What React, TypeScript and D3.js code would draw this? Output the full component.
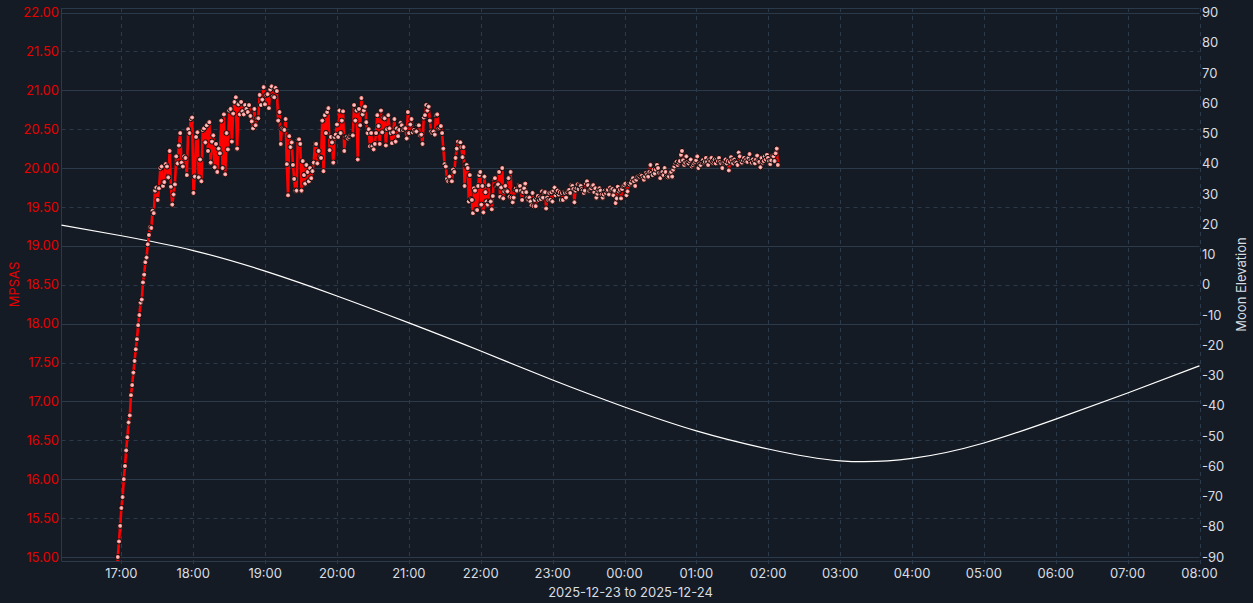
import React, { useEffect, useRef } from 'react';
import * as d3 from 'd3';

// axis ticks
const hourLabels = ['17:00', '18:00', '19:00', '20:00', '21:00', '22:00', '23:00', '00:00', '01:00', '02:00', '03:00', '04:00', '05:00', '06:00', '07:00', '08:00'];
const mpsasTicks = [15, 15.5, 16, 16.5, 17, 17.5, 18, 18.5, 19, 19.5, 20, 20.5, 21, 21.5, 22];
const moonTicks = [-90, -80, -70, -60, -50, -40, -30, -20, -10, 0, 10, 20, 30, 40, 50, 60, 70, 80, 90];

// moon elevation (degrees)
const moonTimes = ['16:10', '17:00', '18:00', '19:00', '20:00', '21:00', '22:00', '23:00', '00:00', '01:00', '02:00', '03:00', '04:00', '05:00', '06:00', '07:00', '08:00'];
const moonElevation = [19.7, 16.2, 11.3, 4.5, -3.7, -12.6, -21.9, -31.5, -40.4, -48.3, -54.3, -58.2, -57.4, -52.3, -44.4, -35.8, -26.8];

// SQM readings, split in stretches; points of a stretch are spread evenly between its start and end
const segmentStarts = ['16:56', '17:27', '19:13', '21:43', '23:48'];
const segmentEnds = ['17:26', '19:12', '21:41', '23:47', '02:08'];

const riseValues = [14.75, 15.0, 15.2, 15.4, 15.63, 15.77, 16.0, 16.17, 16.37, 16.54, 16.73, 16.82, 17.08, 17.21, 17.37, 17.52, 17.67, 17.8, 17.98, 18.11, 18.27, 18.31, 18.53, 18.63, 18.79, 18.85, 19.02, 19.14, 19.24, 19.23, 19.45];

const eveningValues = [19.42, 19.71, 19.75, 19.59, 19.74, 20.0, 20.02, 19.77, 19.82, 20.05, 20.02, 19.88, 20.22, 19.76, 19.53, 19.66, 19.79, 20.15, 20.06, 20.29, 20.45, 20.07, 20.02, 20.15, 20.13, 19.91, 20.5, 20.45, 20.63, 20.65, 19.68, 19.89, 20.4, 20.46, 19.88, 20.11, 19.83, 20.49, 20.51, 20.33, 20.55, 20.22, 20.59, 20.07, 20.34, 20.42, 20.01, 20.31, 19.95, 20.25, 20.19, 20.61, 20.0, 20.69, 19.92, 20.45, 20.24, 20.74, 20.76, 20.34, 20.7, 20.85, 20.91, 20.25, 20.82, 20.69, 20.85, 20.73, 20.69, 20.81, 20.76, 20.72, 20.81, 20.67, 20.6, 20.51, 20.76, 20.55, 20.64, 20.64, 20.94, 20.81, 20.88, 21.04, 20.82, 20.94, 20.95, 20.77, 21.01, 21.05, 20.92, 20.91, 21.03, 20.99, 20.61, 20.72];

const lateEveningValues = [20.31, 20.51, 20.5, 20.49, 20.63, 20.05, 19.65, 20.41, 20.27, 20.33, 20.04, 19.86, 19.71, 19.71, 20.37, 20.37, 20.31, 19.71, 20.09, 19.91, 19.8, 20.04, 19.95, 19.83, 20.0, 19.87, 19.96, 20.07, 20.31, 20.31, 20.06, 20.22, 20.14, 20.13, 20.61, 19.96, 20.68, 20.45, 20.72, 20.77, 20.23, 20.4, 20.33, 20.07, 20.4, 20.43, 20.56, 20.4, 20.74, 20.45, 20.61, 20.73, 20.22, 20.4, 20.4, 20.38, 20.4, 20.42, 20.42, 20.42, 20.81, 20.61, 20.74, 20.11, 20.76, 20.55, 20.9, 20.69, 20.74, 20.79, 20.59, 20.45, 20.5, 20.28, 20.45, 20.28, 20.24, 20.31, 20.45, 20.68, 20.54, 20.31, 20.74, 20.46, 20.65, 20.64, 20.29, 20.5, 20.68, 20.51, 20.45, 20.32, 20.46, 20.63, 20.34, 20.51, 20.41, 20.49, 20.58, 20.55, 20.49, 20.51, 20.51, 20.38, 20.72, 20.45, 20.56, 20.63, 20.46, 20.49, 20.47, 20.47, 20.55, 20.55, 20.42, 20.43, 20.31, 20.65, 20.68, 20.81, 20.74, 20.79, 20.61, 20.47, 20.45, 20.47, 20.43, 20.68, 20.69, 20.51, 20.52, 20.54, 20.45, 20.25, 20.05, 20.02, 19.86, 19.83, 19.89, 19.83, 19.83, 19.98, 19.95, 20.13, 20.25, 20.34];

const midnightValues = [20.33, 20.27, 20.14, 20.27, 19.77, 20.04, 20.04, 20.0, 19.57, 19.91, 19.6, 19.59, 19.42, 19.74, 19.71, 19.46, 19.46, 19.77, 19.91, 19.95, 19.53, 19.77, 19.43, 19.89, 19.69, 19.57, 19.53, 19.78, 19.57, 19.57, 19.47, 19.64, 19.86, 19.87, 19.77, 19.78, 19.79, 19.95, 19.63, 19.75, 20.0, 19.61, 19.7, 19.77, 19.71, 19.7, 19.87, 19.63, 19.95, 19.62, 19.56, 19.62, 19.73, 19.74, 19.71, 19.77, 19.78, 19.77, 19.71, 19.59, 19.69, 19.74, 19.8, 19.69, 19.62, 19.59, 19.62, 19.57, 19.52, 19.68, 19.51, 19.59, 19.51, 19.62, 19.64, 19.59, 19.62, 19.6, 19.7, 19.62, 19.68, 19.69, 19.48, 19.62, 19.59, 19.68, 19.59, 19.69, 19.57, 19.71, 19.75, 19.65, 19.69, 19.71, 19.66, 19.69, 19.59, 19.68, 19.59, 19.69, 19.68, 19.62, 19.69, 19.71, 19.72, 19.68, 19.78, 19.77, 19.73, 19.56, 19.71, 19.74, 19.79, 19.73, 19.78, 19.77, 19.73, 19.71, 19.68, 19.71, 19.8, 19.83, 19.78, 19.71, 19.73, 19.74, 19.77, 19.78, 19.69, 19.74, 19.62, 19.67, 19.71, 19.74, 19.71, 19.66, 19.62, 19.66, 19.71, 19.68, 19.71, 19.72, 19.66];

const morningValues = [19.75, 19.72, 19.73, 19.65, 19.71, 19.55, 19.61, 19.76, 19.7, 19.72, 19.61, 19.73, 19.77, 19.78, 19.8, 19.65, 19.7, 19.8, 19.79, 19.81, 19.85, 19.87, 19.83, 19.77, 19.85, 19.89, 19.9, 19.89, 19.91, 19.9, 19.87, 19.85, 19.89, 19.94, 19.92, 19.89, 19.95, 20.04, 19.94, 19.91, 19.98, 19.93, 19.98, 20.04, 20.0, 19.94, 19.87, 19.94, 19.95, 19.91, 20.0, 19.95, 19.89, 19.88, 19.89, 19.94, 19.95, 19.89, 19.98, 20.02, 20.06, 20.08, 20.04, 20.07, 20.09, 20.17, 20.22, 20.1, 20.04, 20.07, 20.15, 20.08, 20.06, 20.09, 20.11, 20.02, 20.04, 20.06, 20.08, 20.1, 20.15, 20.0, 20.06, 20.04, 20.08, 20.1, 20.07, 20.08, 20.13, 20.08, 20.04, 20.11, 20.09, 20.13, 20.07, 20.09, 20.11, 20.06, 20.11, 20.09, 20.13, 20.08, 20.06, 20.0, 20.07, 20.08, 20.11, 20.06, 20.09, 19.97, 20.08, 20.14, 20.1, 20.06, 20.11, 20.08, 20.07, 20.04, 20.2, 20.15, 20.08, 20.07, 20.1, 20.13, 20.09, 20.11, 20.08, 20.13, 20.18, 20.1, 20.07, 20.11, 20.08, 20.06, 20.11, 20.16, 20.09, 20.08, 20.01, 20.13, 20.07, 20.09, 20.15, 20.11, 20.17, 20.13, 20.09, 20.05, 20.1, 20.16, 20.15, 20.09, 20.19, 20.25, 20.04];

const mpsasSegments = [riseValues, eveningValues, lateEveningValues, midnightValues, morningValues];

const toTime = (hm: string): Date => {
  const [h, m] = hm.split(':').map(Number);
  return new Date(2025, 11, h < 12 ? 24 : 23, h, m);
};

const App: React.FC = () => {
  const containerRef = useRef<HTMLDivElement | null>(null);

  useEffect(() => {
    if (!containerRef.current) return;
    containerRef.current.innerHTML = '';
    document.body.style.margin = '0';
    document.body.style.background = '#151b24';

    const width = 1253;
    const height = 603;
    const plot = { left: 61.5, right: 1199.5, top: 8, bottom: 561 };
    const font = "Inter, 'Noto Sans', sans-serif";
    const gridColor = '#2b3a4b';

    const x = d3.scaleTime().domain([toTime('16:10'), toTime('08:00')]).range([plot.left, plot.right]);
    const yLeft = d3.scaleLinear().domain([15, 22]).range([557, 12.5]);
    const yRight = d3.scaleLinear().domain([-90, 90]).range([557, 12.5]);

    // build the sqm points
    const points: { t: Date; v: number }[] = [];
    mpsasSegments.forEach((vals, i) => {
      const t0 = toTime(segmentStarts[i]).getTime();
      const t1 = toTime(segmentEnds[i]).getTime();
      vals.forEach((v, j) => {
        points.push({ t: new Date(t0 + ((t1 - t0) * j) / (vals.length - 1)), v });
      });
    });

    const svg = d3
      .select(containerRef.current)
      .append('svg')
      .attr('width', width)
      .attr('height', height)
      .style('display', 'block')
      .style('font-family', font);

    svg.append('rect').attr('width', width).attr('height', height).attr('fill', '#151b24');

    svg
      .append('clipPath')
      .attr('id', 'plot-clip')
      .append('rect')
      .attr('x', plot.left)
      .attr('y', plot.top)
      .attr('width', plot.right - plot.left)
      .attr('height', plot.bottom - plot.top);

    // horizontal grid: whole numbers solid, halves dashed
    svg
      .append('g')
      .selectAll('line')
      .data(mpsasTicks)
      .join('line')
      .attr('x1', plot.left)
      .attr('x2', plot.right)
      .attr('y1', (d) => Math.round(yLeft(d)) + 0.5)
      .attr('y2', (d) => Math.round(yLeft(d)) + 0.5)
      .attr('stroke', gridColor)
      .attr('stroke-width', 1)
      .attr('stroke-dasharray', (d) => (Number.isInteger(d) ? null : '4,4'));

    // vertical grid at every hour
    svg
      .append('g')
      .selectAll('line')
      .data(hourLabels)
      .join('line')
      .attr('x1', (d) => Math.round(x(toTime(d))) + 0.5)
      .attr('x2', (d) => Math.round(x(toTime(d))) + 0.5)
      .attr('y1', plot.top)
      .attr('y2', plot.bottom + 4)
      .attr('stroke', gridColor)
      .attr('stroke-dasharray', '4,4');

    // frame
    svg.append('line').attr('x1', plot.left).attr('x2', plot.right).attr('y1', plot.top + 0.5).attr('y2', plot.top + 0.5).attr('stroke', gridColor);
    svg.append('line').attr('x1', plot.left).attr('x2', plot.right).attr('y1', plot.bottom + 0.5).attr('y2', plot.bottom + 0.5).attr('stroke', gridColor);
    svg.append('line').attr('x1', plot.left).attr('x2', plot.left).attr('y1', plot.top).attr('y2', plot.bottom).attr('stroke', gridColor);

    // moon elevation
    const moonData = moonTimes.map((t, i) => ({ t: toTime(t), v: moonElevation[i] }));
    const moonLine = d3
      .line<{ t: Date; v: number }>()
      .x((d) => x(d.t))
      .y((d) => yRight(d.v))
      .curve(d3.curveNatural);
    svg
      .append('path')
      .datum(moonData)
      .attr('d', moonLine)
      .attr('fill', 'none')
      .attr('stroke', '#ffffff')
      .attr('stroke-width', 1.2);

    // sqm line and points
    const sqm = svg.append('g').attr('clip-path', 'url(#plot-clip)');
    const sqmLine = d3
      .line<{ t: Date; v: number }>()
      .x((d) => x(d.t))
      .y((d) => yLeft(d.v));
    sqm
      .append('path')
      .datum(points)
      .attr('d', sqmLine)
      .attr('fill', 'none')
      .attr('stroke', '#ff0000')
      .attr('stroke-width', 2.6)
      .attr('stroke-linejoin', 'round');

    const dots = sqm
      .selectAll('g.dot')
      .data(points)
      .join('g')
      .attr('class', 'dot')
      .attr('transform', (d) => `translate(${x(d.t)},${yLeft(d.v)})`);
    dots.append('circle').attr('r', 2.6).attr('fill', '#f08484').attr('stroke', '#0c0c0c').attr('stroke-width', 1);
    dots.append('path').attr('d', 'M-1.3,0H1.3M0,-1.3V1.3').attr('stroke', '#ffd4d4').attr('stroke-width', 0.9);

    // left axis labels
    svg
      .append('g')
      .selectAll('text')
      .data(mpsasTicks)
      .join('text')
      .attr('x', 59)
      .attr('y', (d) => yLeft(d))
      .attr('dy', '0.35em')
      .attr('text-anchor', 'end')
      .attr('fill', '#e60000')
      .attr('font-size', 13)
      .text((d) => d.toFixed(2));

    // right axis labels
    svg
      .append('g')
      .selectAll('text')
      .data(moonTicks)
      .join('text')
      .attr('x', 1202)
      .attr('y', (d) => yRight(d))
      .attr('dy', '0.35em')
      .attr('fill', '#d8dde3')
      .attr('font-size', 13)
      .text((d) => String(d));

    // hour labels
    svg
      .append('g')
      .selectAll('text')
      .data(hourLabels)
      .join('text')
      .attr('x', (d) => x(toTime(d)))
      .attr('y', 573)
      .attr('dy', '0.35em')
      .attr('text-anchor', 'middle')
      .attr('fill', '#d8dde3')
      .attr('font-size', 13)
      .text((d) => d);

    svg
      .append('text')
      .attr('x', (plot.left + plot.right) / 2)
      .attr('y', 592)
      .attr('dy', '0.35em')
      .attr('text-anchor', 'middle')
      .attr('fill', '#d8dde3')
      .attr('font-size', 13)
      .text('2025-12-23 to 2025-12-24');

    svg
      .append('text')
      .attr('transform', `translate(14,${(plot.top + plot.bottom) / 2}) rotate(-90)`)
      .attr('dy', '0.35em')
      .attr('text-anchor', 'middle')
      .attr('fill', '#e60000')
      .attr('font-size', 13)
      .text('MPSAS');

    svg
      .append('text')
      .attr('transform', `translate(1241,${(plot.top + plot.bottom) / 2}) rotate(-90)`)
      .attr('dy', '0.35em')
      .attr('text-anchor', 'middle')
      .attr('fill', '#d8dde3')
      .attr('font-size', 13)
      .text('Moon Elevation');
  }, []);

  return <div ref={containerRef} />;
};

export default App;
